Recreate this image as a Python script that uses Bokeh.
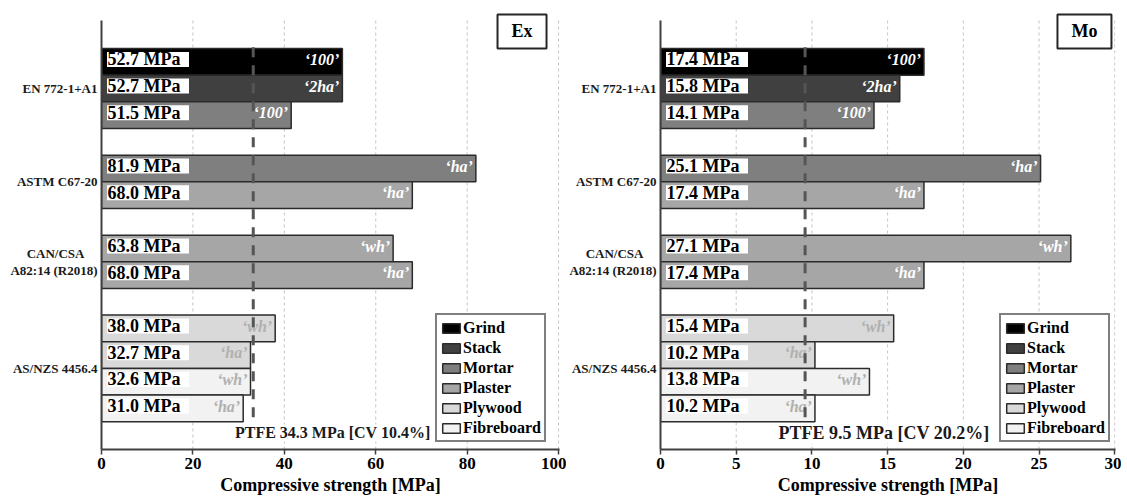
from bokeh.plotting import figure
from bokeh.models import Range1d, FixedTicker, Label, ColumnDataSource
from bokeh.layouts import row
from bokeh.embed import file_html
from bokeh.resources import INLINE
from bokeh.core.properties import value

# ---------------- data ----------------
standards = ["EN 772-1+A1", "ASTM C67-20",
             "CAN/CSA\u00a0\u00a0\u00a0\u00a0\nA82:14 (R2018)", "AS/NZS 4456.4"]
group_sizes = [3, 2, 2, 4]
materials = ["Grind", "Stack", "Mortar", "Plaster", "Plywood", "Fibreboard"]
material_colors = ["#000000", "#404040", "#7f7f7f", "#a6a6a6", "#d9d9d9", "#f2f2f2"]
bar_material = ["Grind", "Stack", "Mortar", "Mortar", "Plaster", "Plaster", "Plaster",
                "Plywood", "Plywood", "Fibreboard", "Fibreboard"]
bar_tags = ["‘100’", "‘2ha’", "‘100’", "‘ha’", "‘ha’", "‘wh’", "‘ha’",
            "‘wh’", "‘ha’", "‘wh’", "‘ha’"]

ex_values = [52.7, 52.7, 41.5, 81.9, 68.0, 63.8, 68.0, 38.0, 32.6, 32.6, 31.0]
ex_labels = ["52.7 MPa", "52.7 MPa", "51.5 MPa", "81.9 MPa", "68.0 MPa", "63.8 MPa",
             "68.0 MPa", "38.0 MPa", "32.7 MPa", "32.6 MPa", "31.0 MPa"]
ex_ptfe = 33.2
ex_ptfe_text = "PTFE 34.3 MPa [CV 10.4%]"

mo_values = [17.4, 15.8, 14.1, 25.1, 17.4, 27.1, 17.4, 15.4, 10.2, 13.8, 10.2]
mo_labels = ["17.4 MPa", "15.8 MPa", "14.1 MPa", "25.1 MPa", "17.4 MPa", "27.1 MPa",
             "17.4 MPa", "15.4 MPa", "10.2 MPa", "13.8 MPa", "10.2 MPa"]
mo_ptfe = 9.55
mo_ptfe_text = "PTFE 9.5 MPa [CV 20.2%]"

ex_ticks = [0, 20, 40, 60, 80, 100]
mo_ticks = [0, 5, 10, 15, 20, 25, 30]

FONT = "Liberation Serif"
Y_TOP = -0.05      # top of plotting area (row units)
Y_BOT = 16.04      # bottom of plotting area
Y_FRAME_TOP = -0.35

# row layout (top to bottom)
rows = []
group_centers = []
r = 1
for size in group_sizes:
    g = []
    for i in range(size):
        rows.append(r + 0.5)
        g.append(r + 0.5)
        r += 1
    group_centers.append(sum(g) / len(g))
    r += 1

light_tag = {"Plywood", "Fibreboard"}


def make_panel(values, labels, ptfe, ptfe_text, ptfe_text_x, ptfe_font, xmax, ticks,
               frame_w, mb_left, mb_right, tag, tag_x, legend_x):
    p = figure(frame_width=frame_w, frame_height=437, output_backend="svg",
               toolbar_location=None, x_range=Range1d(0, xmax),
               y_range=Range1d(Y_BOT, Y_FRAME_TOP),
               min_border_left=mb_left, min_border_right=mb_right,
               min_border_top=12, min_border_bottom=0)
    p.outline_line_color = None
    p.background_fill_color = "white"

    # dashed vertical grid lines, limited to the plotting area
    p.segment(x0=ticks, x1=ticks, y0=Y_TOP, y1=Y_BOT, line_color="#c4c4c4",
              line_width=1, line_dash="3 3")

    px_per_unit = frame_w / xmax
    label_y = [y - 0.09 for y in rows]
    tcolors = ["#b0b0b0" if m in light_tag else "white" for m in bar_material]

    for m, c in zip(materials, material_colors):
        idx = [i for i, bm in enumerate(bar_material) if bm == m]
        src = ColumnDataSource(dict(y=[rows[i] for i in idx], v=[values[i] for i in idx]))
        p.hbar(y="y", left=0, right="v", height=1.0, source=src, fill_color=c,
               line_color="#2b2b2b", line_width=1.5, legend_label=m)

    src_all = ColumnDataSource(dict(y=label_y, v=values, lab=labels, tag=bar_tags, tc=tcolors))
    p.rect(x=46.5 / px_per_unit, y="y", width=82, height=15, width_units="screen",
           height_units="screen", source=src_all, fill_color="white", line_color=None)
    p.text(x=0, y="y", text="lab", source=src_all, x_offset=6,
           text_font=value(FONT), text_font_style="bold", text_font_size="18px",
           text_baseline="middle", text_align="left", text_color="black")
    p.text(x="v", y="y", text="tag", source=src_all, x_offset=-3,
           text_font=value(FONT), text_font_style="bold italic", text_font_size="16px",
           text_baseline="middle", text_align="right", text_color="tc")

    p.segment(x0=ptfe, y0=0.95, x1=ptfe, y1=15.1, line_color="#555555",
              line_width=3, line_dash="10 8")
    p.text(x=[ptfe_text_x], y=[15.42], text=[ptfe_text], text_font=value(FONT),
           text_font_style="bold", text_font_size=ptfe_font, text_baseline="middle",
           text_align="left", text_color="#1a1a1a", background_fill_color="white")

    p.add_layout(Label(x=tag_x, y=0.36, text=tag, text_align="center",
                       text_baseline="middle", text_font=FONT, text_font_style="bold",
                       text_font_size="18px", text_color="black",
                       border_line_color="#262626",
                       border_line_width=2, background_fill_color="white",
                       padding=dict(x=14, y=7)))

    # x axis
    p.xaxis.ticker = FixedTicker(ticks=ticks)
    p.xaxis.axis_label = "Compressive strength [MPa]"
    p.xaxis.axis_label_text_font = FONT
    p.xaxis.axis_label_text_font_style = "bold"
    p.xaxis.axis_label_text_font_size = "18px"
    p.xaxis.axis_label_text_color = "black"
    p.xaxis.axis_label_standoff = 3
    p.xaxis.major_label_text_font = FONT
    p.xaxis.major_label_text_font_style = "bold"
    p.xaxis.major_label_text_font_size = "17px"
    p.xaxis.major_label_text_color = "black"
    p.xaxis.major_label_standoff = 3
    p.xaxis.major_tick_out = 5
    p.xaxis.major_tick_in = 0
    p.xaxis.minor_tick_out = 0
    p.xaxis.minor_tick_in = 0
    p.xaxis.axis_line_width = 2
    p.xaxis.axis_line_color = "#404040"
    p.xaxis.major_tick_line_color = "#404040"
    p.xaxis.major_tick_line_width = 1.5

    # y axis with standard names
    p.yaxis.ticker = FixedTicker(ticks=group_centers)
    p.yaxis.major_label_overrides = {gc: name for gc, name in zip(group_centers, standards)}
    p.yaxis.major_label_text_font = FONT
    p.yaxis.major_label_text_font_style = "bold"
    p.yaxis.major_label_text_font_size = "13px"
    p.yaxis.major_label_text_color = "#1a1a1a"
    p.yaxis.major_label_text_line_height = 1.15
    p.yaxis.major_label_standoff = 4
    p.yaxis.major_tick_line_color = None
    p.yaxis.minor_tick_line_color = None
    p.yaxis.major_tick_out = 0
    p.yaxis.major_tick_in = 0
    p.yaxis.axis_line_width = 2
    p.yaxis.axis_line_color = "#404040"
    p.yaxis.bounds = (Y_TOP, Y_BOT)

    p.xgrid.grid_line_color = None
    p.ygrid.grid_line_color = None

    lg = p.legend[0]
    lg.location = (legend_x, 7)
    lg.border_line_color = "black"
    lg.border_line_width = 2
    lg.padding = 3
    lg.spacing = 1
    lg.margin = 0
    lg.label_height = 19
    lg.glyph_height = 12
    lg.glyph_width = 22
    lg.label_standoff = 1
    lg.label_text_font = FONT
    lg.label_text_font_style = "bold"
    lg.label_text_font_size = "16px"
    lg.label_text_color = "black"
    lg.background_fill_alpha = 1.0
    return p


p1 = make_panel(ex_values, ex_labels, ex_ptfe, ex_ptfe_text, 29.2, "16px", 100.2, ex_ticks,
                458, 101, 7, "Ex", 92.0, 334)
p2 = make_panel(mo_values, mo_labels, mo_ptfe, mo_ptfe_text, 7.8, "18px", 30.05, mo_ticks,
                455, 92, 6, "Mo", 28.0, 339)

layout = row(p1, p2)
open("out.html", "w").write(file_html(layout, INLINE))
